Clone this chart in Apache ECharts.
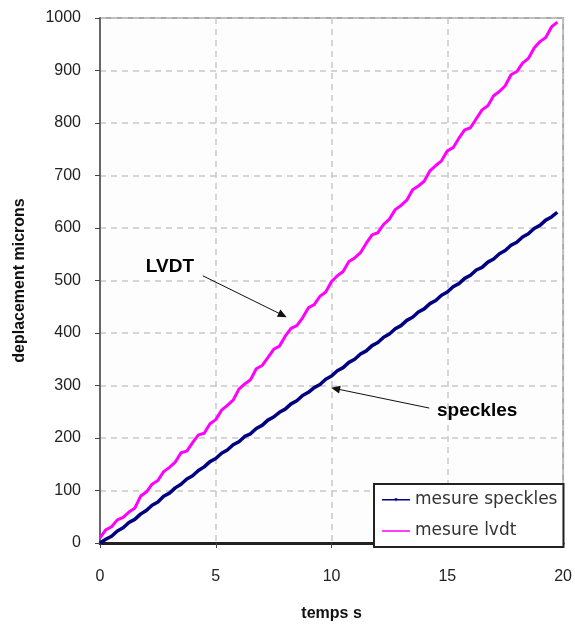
<!DOCTYPE html>
<html>
<head>
<meta charset="utf-8">
<script src="https://cdn.jsdelivr.net/npm/echarts@6/dist/echarts.min.js"></script>
<style>
  html, body { margin: 0; padding: 0; background: #fff; }
  #mainChart { width: 575px; height: 627px; }
</style>
</head>
<body>
<div id="mainChart"></div>
<script>
// temps (s)
var temps = [0, 0.25, 0.5, 0.75, 1, 1.25, 1.5, 1.75, 2, 2.25, 2.5, 2.75, 3, 3.25, 3.5, 3.75,
    4, 4.25, 4.5, 4.75, 5, 5.25, 5.5, 5.75, 6, 6.25, 6.5, 6.75, 7, 7.25, 7.5, 7.75,
    8, 8.25, 8.5, 8.75, 9, 9.25, 9.5, 9.75, 10, 10.25, 10.5, 10.75, 11, 11.25, 11.5, 11.75,
    12, 12.25, 12.5, 12.75, 13, 13.25, 13.5, 13.75, 14, 14.25, 14.5, 14.75, 15, 15.25, 15.5, 15.75,
    16, 16.25, 16.5, 16.75, 17, 17.25, 17.5, 17.75, 18, 18.25, 18.5, 18.75, 19, 19.25, 19.5, 19.75];
// mesure speckles (microns)
var speckles = [0, 7, 13, 23, 29, 39, 45, 55, 62, 72, 78, 89, 95, 105, 112, 122,
    128, 138, 145, 155, 161, 171, 177, 187, 193, 203, 208, 218, 224, 234, 240, 249,
    255, 265, 271, 281, 287, 296, 302, 312, 318, 328, 334, 344, 350, 360, 366, 376,
    382, 392, 398, 408, 414, 424, 430, 440, 446, 456, 462, 472, 478, 488, 494, 504,
    510, 520, 525, 535, 541, 551, 557, 567, 573, 583, 589, 599, 605, 615, 621, 630];
// mesure lvdt (microns)
var lvdt = [10, 25, 31, 44, 49, 59, 66, 89, 97, 112, 119, 136, 144, 154, 172, 175,
    191, 206, 209, 227, 235, 253, 262, 272, 293, 303, 311, 332, 338, 353, 369, 375,
    394, 409, 414, 429, 448, 454, 470, 478, 498, 509, 517, 536, 543, 553, 571, 587,
    591, 607, 617, 635, 643, 653, 673, 680, 689, 709, 719, 728, 747, 753, 771, 787,
    791, 808, 825, 833, 852, 860, 871, 892, 898, 914, 923, 943, 955, 963, 983, 992];

function pairs(xs, ys) {
    var out = [];
    for (var i = 0; i < xs.length; i++) {
        out.push([xs[i], ys[i]]);
    }
    return out;
}

var myChart = echarts.init(document.getElementById('mainChart'));
var axisFont = { color: '#222', fontSize: 16, fontFamily: 'Liberation Sans' };
var dashed = { show: true, lineStyle: { color: '#c8c8c8', type: [6, 5], width: 1.5 } };
var labelFont = { color: '#000', fontSize: 19, fontWeight: 'bold', fontFamily: 'Liberation Sans' };

var option = {
    animation: false,
    backgroundColor: '#fff',
    grid: {
        left: 100, right: 11, top: 18, bottom: 78,
        show: true, backgroundColor: '#fdfdfd',
        borderColor: '#aaa', borderWidth: 2
    },
    legend: {
        orient: 'vertical',
        left: 374, top: 484,
        padding: [7, 6, 7, 8],
        itemGap: 13,
        itemWidth: 28, itemHeight: 8,
        backgroundColor: '#fff',
        borderColor: '#222', borderWidth: 2,
        textStyle: { color: '#333', fontSize: 17, lineHeight: 18, fontFamily: 'DejaVu Sans' },
        data: [
            { name: 'mesure speckles', icon: 'path://M0,3.2L28,3.2L28,4.8L0,4.8Z M12.5,2.5L15.5,2.5L14,6Z' },
            { name: 'mesure lvdt', icon: 'path://M0,3.2L28,3.2L28,4.8L0,4.8Z M0,0L0.01,0L0,8Z' }
        ]
    },
    xAxis: {
        type: 'value', min: 0, max: 20, interval: 5,
        name: 'temps s', nameLocation: 'middle', nameGap: 63,
        nameTextStyle: { color: '#111', fontSize: 16, fontWeight: 'bold', fontFamily: 'Liberation Sans' },
        axisLine: { show: true, onZero: false, lineStyle: { color: '#222', width: 3 } },
        axisTick: { show: true, inside: false, length: 5, lineStyle: { color: '#444' } },
        axisLabel: Object.assign({ margin: 26 }, axisFont),
        splitLine: dashed
    },
    yAxis: {
        type: 'value', min: 0, max: 1000, interval: 100,
        name: 'deplacement microns', nameLocation: 'middle', nameGap: 72, nameRotate: 90,
        nameTextStyle: { color: '#111', fontSize: 16, fontWeight: 'bold', fontFamily: 'Liberation Sans' },
        axisLine: { show: true, lineStyle: { color: '#666', width: 2 } },
        axisTick: { show: true, inside: false, length: 5, lineStyle: { color: '#444' } },
        axisLabel: Object.assign({ margin: 19, formatter: function (v) { return String(v); } }, axisFont),
        splitLine: dashed
    },
    series: [
        {
            name: 'mesure speckles',
            type: 'line',
            data: pairs(temps, speckles),
            symbol: 'none',
            lineStyle: { color: '#000080', width: 3.5 },
            itemStyle: { color: '#000080' },
            z: 3,
            markLine: {
                silent: true,
                symbol: ['none', 'triangle'], symbolSize: [8, 9],
                lineStyle: { color: '#111', width: 1, type: 'solid' },
                label: { show: false },
                data: [
                    [{ coord: [14.22, 257] }, { coord: [10.17, 294] }]
                ]
            },
            markPoint: {
                silent: true,
                symbol: 'circle', symbolSize: 1,
                itemStyle: { color: 'rgba(0,0,0,0)' },
                label: Object.assign({ show: true, position: 'inside' }, labelFont),
                data: [{ coord: [16.29, 251], label: { formatter: 'speckles' } }]
            }
        },
        {
            name: 'mesure lvdt',
            type: 'line',
            data: pairs(temps, lvdt),
            symbol: 'none',
            lineStyle: { color: '#ff00ff', width: 3 },
            itemStyle: { color: '#ff00ff' },
            z: 2,
            markLine: {
                silent: true,
                symbol: ['none', 'triangle'], symbolSize: [8, 9],
                lineStyle: { color: '#111', width: 1, type: 'solid' },
                label: { show: false },
                data: [
                    [{ coord: [4.44, 509] }, { coord: [7.89, 434] }]
                ]
            },
            markPoint: {
                silent: true,
                symbol: 'circle', symbolSize: 1,
                itemStyle: { color: 'rgba(0,0,0,0)' },
                label: Object.assign({ show: true, position: 'inside' }, labelFont),
                data: [{ coord: [3.02, 526], label: { formatter: 'LVDT' } }]
            }
        }
    ]
};
myChart.setOption(option);
</script>
</body>
</html>
